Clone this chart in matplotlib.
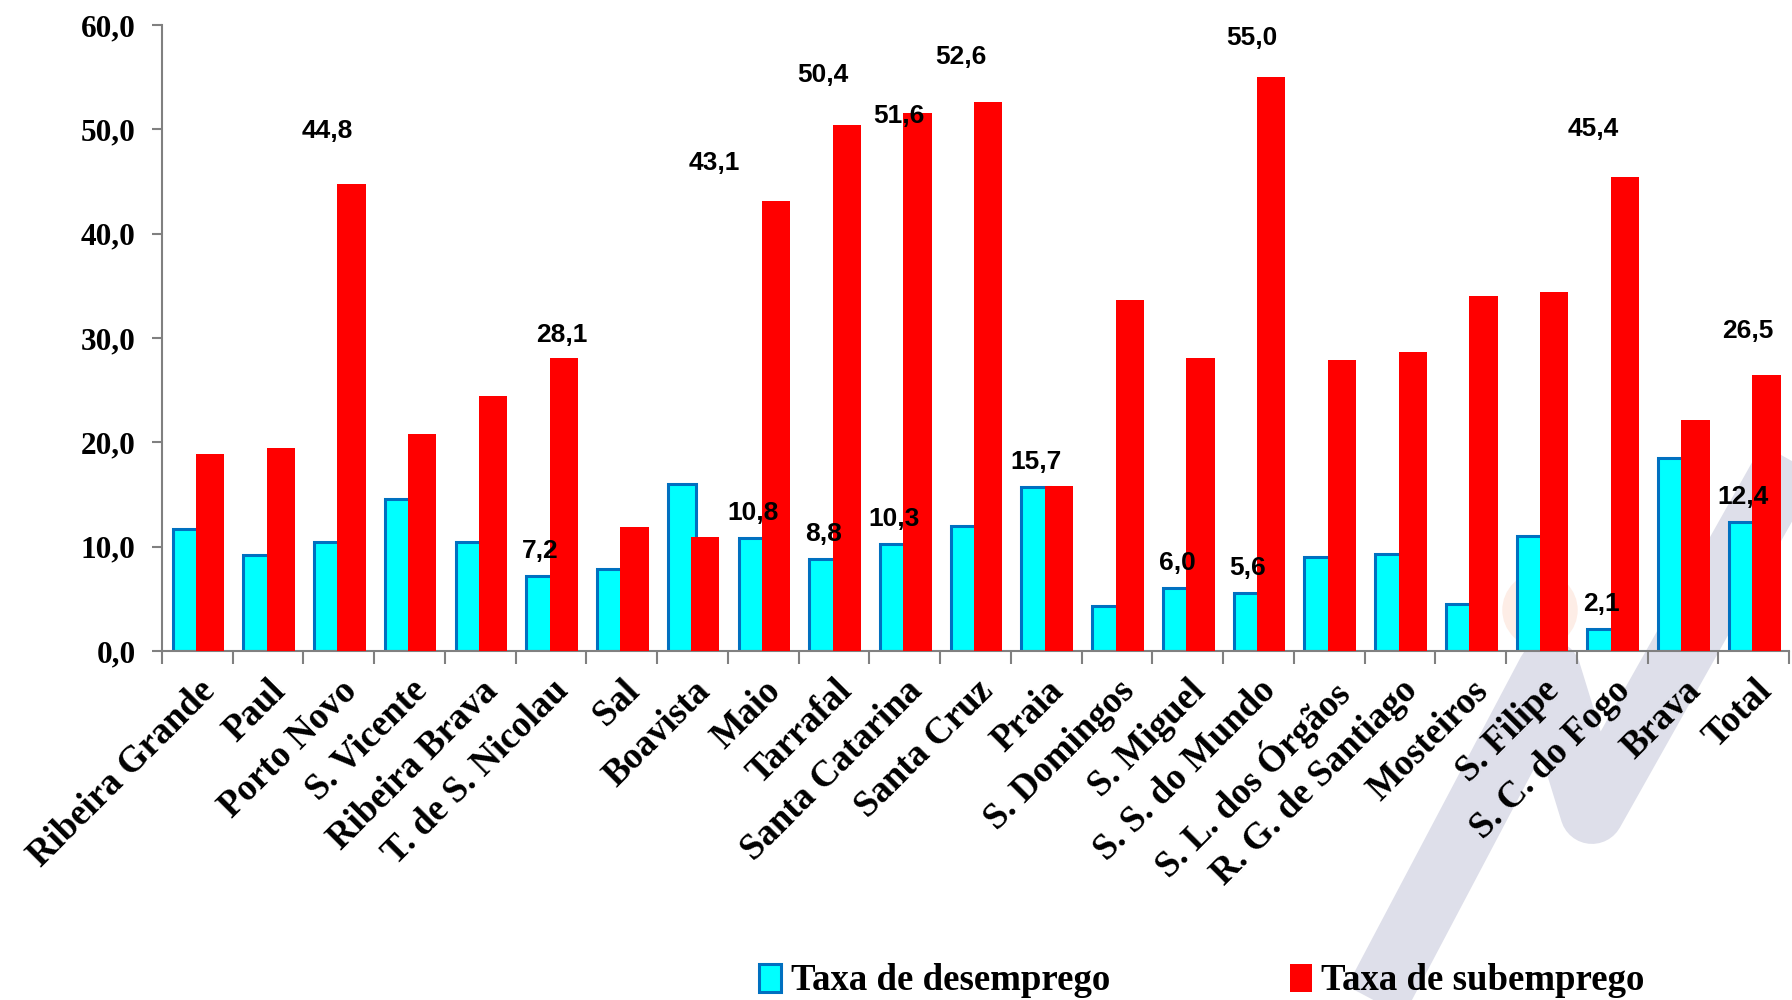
import matplotlib
matplotlib.use("Agg")
import matplotlib.pyplot as plt
import numpy as np
from matplotlib.lines import Line2D
from matplotlib.patches import Ellipse, Rectangle

categories = ["Ribeira Grande", "Paul", "Porto Novo", "S. Vicente", "Ribeira Brava",
              "T. de S. Nicolau", "Sal", "Boavista", "Maio", "Tarrafal", "Santa Catarina",
              "Santa Cruz", "Praia", "S. Domingos", "S. Miguel", "S. S. do Mundo",
              "S. L. dos Órgãos", "R. G. de Santiago", "Mosteiros", "S. Filipe",
              "S. C. do Fogo", "Brava", "Total"]
desemprego = [11.7, 9.2, 10.4, 14.6, 10.4, 7.2, 7.9, 16.0, 10.8, 8.8, 10.3, 12.0, 15.7,
              4.3, 6.0, 5.6, 9.0, 9.3, 4.5, 11.0, 2.1, 18.5, 12.4]
subemprego = [18.9, 19.5, 44.8, 20.8, 24.4, 28.1, 11.9, 10.9, 43.1, 50.4, 51.6, 52.6, 15.8,
              33.6, 28.1, 55.0, 27.9, 28.7, 34.0, 34.4, 45.4, 22.1, 26.5]
series_names = ["Taxa de desemprego", "Taxa de subemprego"]
yticks = [0, 10, 20, 30, 40, 50, 60]

# which bars carry value labels (index -> label offset in pixels)
desemp_labeled = [5, 8, 9, 10, 12, 14, 15, 20, 22]
subemp_label_offsets = {2: (-24, 53), 5: (-2, 23), 8: (-62, 38), 9: (-24, 50),
                        10: (-19, -3), 11: (-27, 45), 15: (-19, 39), 20: (-32, 48),
                        22: (-19, 44)}

W, H = 1792, 1000
fig = plt.figure(figsize=(W / 100, H / 100), dpi=100)
fig.patch.set_facecolor("white")

# watermark (background logo)
def fx(v):
    return v / W
def fy(v):
    return 1 - v / H
band_x = [1360, 1549, 1592, 1790]
band_y = [1030, 672, 812, 460]
fig.add_artist(Line2D([fx(v) for v in band_x], [fy(v) for v in band_y],
                      transform=fig.transFigure, color="#DEDFEA", lw=46,
                      solid_joinstyle="round", solid_capstyle="butt", zorder=-2))
fig.add_artist(Ellipse((fx(1540), fy(610)), 74 / W, 74 / H, transform=fig.transFigure,
                       color="#FDEDE6", zorder=-1))

ax = fig.add_axes([162 / W, 1 - 651 / H, (1789 - 162) / W, (651 - 25) / H])
ax.set_facecolor("none")

x = np.arange(len(categories))
bw = 0.40
off_c, off_r = -0.15, 0.18
ax.bar(x + off_c, desemprego, bw, color="#00FFFF", edgecolor="#0070C0",
       linewidth=2.2, zorder=2, label=series_names[0])
ax.bar(x + off_r, subemprego, bw, color="#FF0000", edgecolor="none",
       zorder=3, label=series_names[1])

lab_font = dict(family="Liberation Sans", weight="bold", size=19, color="black")
for i in desemp_labeled:
    ax.annotate(f"{desemprego[i]:.1f}".replace(".", ","), xy=(x[i] + off_c, desemprego[i]),
                xytext=(0, 25), textcoords="offset pixels", ha="center", va="center",
                zorder=5, **lab_font)
for i, (dx, dy) in subemp_label_offsets.items():
    ax.annotate(f"{subemprego[i]:.1f}".replace(".", ","), xy=(x[i] + off_r, subemprego[i]),
                xytext=(dx, dy), textcoords="offset pixels", ha="center", va="center",
                zorder=5, **lab_font)

ax.set_xlim(-0.5, len(categories) - 0.5)
ax.set_ylim(0, 60)
ax.set_yticks(yticks)
ax.set_yticklabels([f"{v:.1f}".replace(".", ",") for v in yticks],
                   fontfamily="Liberation Serif", fontweight="bold", fontsize=22.5)
ax.tick_params(axis="y", direction="out", length=7, width=1.5, color="#808080", pad=12)

ax.set_xticks(np.arange(len(categories) + 1) - 0.5)
ax.set_xticklabels([])
ax.tick_params(axis="x", direction="out", length=9, width=1.5, color="#808080")
ax.set_xticks(x, minor=True)
ax.set_xticklabels(categories, minor=True, rotation=45, ha="right", va="top",
                   rotation_mode="anchor", fontfamily="Liberation Serif",
                   fontweight="bold", fontsize=26.5)
ax.tick_params(axis="x", which="minor", length=0, pad=16)

for s in ["top", "right"]:
    ax.spines[s].set_visible(False)
for s in ["left", "bottom"]:
    ax.spines[s].set_color("#808080")
    ax.spines[s].set_linewidth(1.5)

h1 = Rectangle((0, 0), 1, 1, facecolor="#00FFFF", edgecolor="#0070C0", linewidth=2.2)
h2 = Rectangle((0, 0), 1, 1, facecolor="#FF0000", edgecolor="none")
leg = fig.legend([h1, h2], series_names, loc="center", bbox_to_anchor=(1202 / W, 1 - 981 / H),
                 ncol=2, frameon=False, handlelength=0.6, handleheight=0.8,
                 handletextpad=0.25, columnspacing=4.9,
                 prop=dict(family="Liberation Serif", weight="bold", size=26.5))

fig.savefig("out.png", dpi=100, facecolor="white")
